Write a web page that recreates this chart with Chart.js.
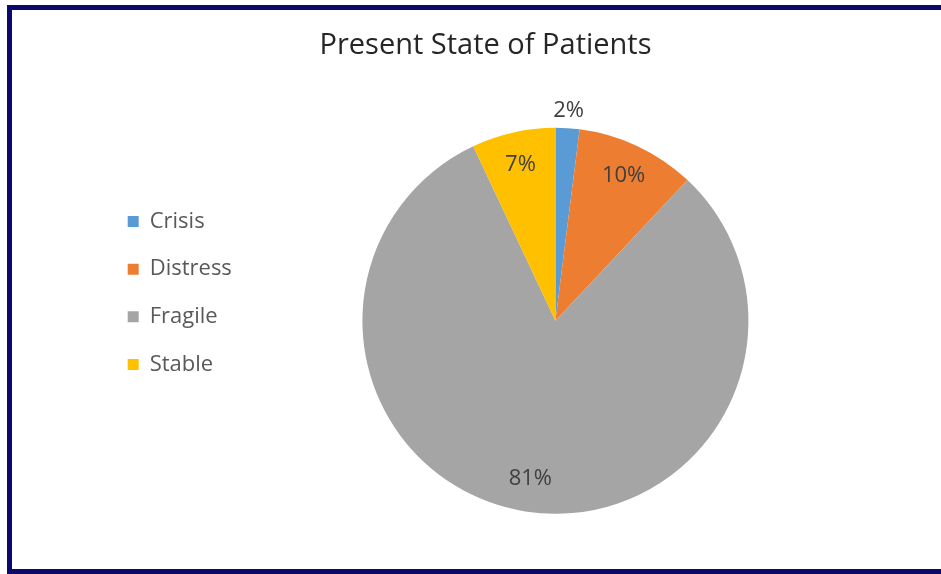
<!DOCTYPE html>
<html>
<head>
<meta charset="utf-8">
<title>Present State of Patients</title>
<script src="https://cdn.jsdelivr.net/npm/chart.js@4.4.1/dist/chart.umd.min.js"></script>
<style>
  html, body { margin: 0; padding: 0; background: #fff; overflow: hidden; }
  #wrap { position: relative; width: 941px; height: 574px; overflow: hidden; }
  #frame {
    position: absolute; left: 7px; top: 5px; width: 929px; height: 559px;
    border: 5px solid #0a0a6e; border-right: none; pointer-events: none;
  }
  canvas { position: absolute; left: 0; top: 0; }
</style>
</head>
<body>
<div id="wrap">
  <canvas id="stateChart" width="941" height="574"></canvas>
  <div id="frame"></div>
</div>
<script>
// 数据
const categories = ['Crisis', 'Distress', 'Fragile', 'Stable'];
const shares = [2, 10, 81, 7];
const sliceColors = ['#5b9bd5', '#ed7d31', '#a5a5a5', '#ffc000'];

// 百分比标签：小扇区放在外侧
const pctLabels = {
    id: 'pctLabels',
    afterDatasetsDraw(chart) {
        const ctx = chart.ctx;
        const meta = chart.getDatasetMeta(0);
        ctx.save();
        ctx.font = '22px "Open Sans"';
        ctx.fillStyle = '#404040';
        ctx.textAlign = 'center';
        ctx.textBaseline = 'middle';
        meta.data.forEach((arc, i) => {
            const { x, y, startAngle, endAngle, outerRadius } = arc.getProps(['x', 'y', 'startAngle', 'endAngle', 'outerRadius'], true);
            const mid = (startAngle + endAngle) / 2;
            const r = shares[i] < 5 ? outerRadius * 1.09 : outerRadius * 0.83;
            ctx.fillText(shares[i] + '%', x + Math.cos(mid) * r, y + Math.sin(mid) * r);
        });
        ctx.restore();
    }
};

function initPieChart() {
    const ctx = document.getElementById('stateChart').getContext('2d');
    new Chart(ctx, {
        type: 'pie',
        data: {
            labels: categories,
            datasets: [{
                data: shares,
                backgroundColor: sliceColors,
                borderWidth: 0,
                hoverOffset: 0,
                radius: 193
            }]
        },
        options: {
            responsive: false,
            devicePixelRatio: 1,
            animation: false,
            events: [],
            layout: {
                padding: { left: 102, right: 72, top: 15, bottom: 3 }
            },
            plugins: {
                title: {
                    display: true,
                    text: 'Present State of Patients',
                    color: '#262626',
                    font: { family: '"Open Sans"', size: 29, weight: 'normal' },
                    padding: { top: 13.4, bottom: 7.4 }
                },
                legend: {
                    position: 'left',
                    align: 'center',
                    labels: {
                        boxWidth: 11,
                        boxHeight: 11,
                        padding: 25.7,
                        color: '#595959',
                        font: { family: '"Open Sans"', size: 22 }
                    }
                },
                tooltip: { enabled: false }
            }
        },
        plugins: [pctLabels]
    });
}

document.addEventListener('DOMContentLoaded', () => {
    initPieChart();
});
</script>
</body>
</html>
